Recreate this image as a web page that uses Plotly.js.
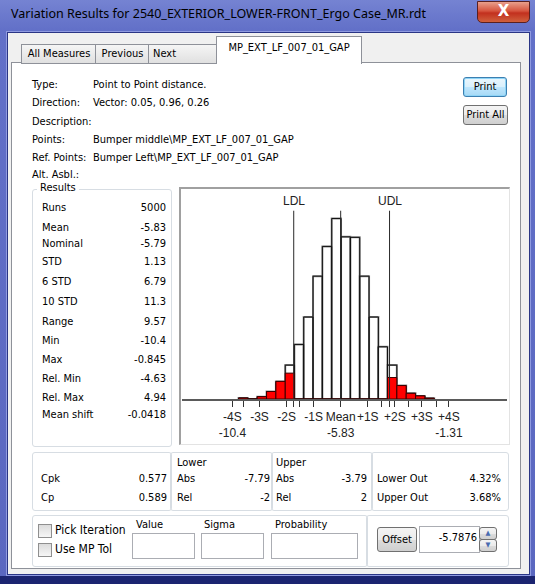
<!DOCTYPE html>
<html><head><meta charset="utf-8">
<script src="https://cdn.plot.ly/plotly-3.0.1.min.js"></script>
<style>
html,body{margin:0;padding:0;}
body{width:535px;height:584px;position:relative;overflow:hidden;
 background:linear-gradient(#7583d2 0px,#6270c8 30px,#5a67c0 100%);
 font-family:"DejaVu Sans Condensed","Liberation Sans",sans-serif;font-size:11px;color:#000;}
.a{position:absolute;white-space:nowrap;}
#title{left:11px;top:5px;font-family:"Noto Sans","Liberation Sans",sans-serif;font-size:12.5px;color:#000;}
#close{left:477px;top:1px;width:51px;height:20px;border:1px solid #5a2020;border-radius:0 0 5px 5px;
 background:linear-gradient(#e8a08c 0%,#d6543e 45%,#c2301e 55%,#d0603c 100%);color:#fff;font:bold 15px "DejaVu Sans",sans-serif;text-align:center;line-height:19px;}
#client{left:7px;top:32px;width:521px;height:541px;background:#f0f0f0;border:1px solid #2a3585;box-shadow:0 0 0 1px #8f9ae0;}
#botframe{left:0;top:576px;width:535px;height:8px;background:#1b2470;}
.tab{top:44px;height:18px;border:1px solid #8e9199;background:linear-gradient(#f5f5f5,#e0e0e0);text-align:center;line-height:18px;}
#page{left:11px;top:62px;width:508px;height:505px;background:#fff;border:1px solid #8e9199;}
.lbl{left:32px;}
.val{left:93px;}
.grp{border:1px solid #d7dde3;border-radius:3px;}
.r{text-align:right;}
.btn{border:1px solid #707070;border-radius:3px;background:linear-gradient(#f4f4f4 0%,#ebebeb 50%,#dddddd 51%,#cfcfcf 100%);text-align:center;}
.tb{border:1px solid #abadb3;background:#fff;}
.cb{width:12px;height:12px;border:1px solid #8f8f8f;background:linear-gradient(#dcdcdc,#f6f6f6);}
#chartframe{left:179px;top:187px;width:328px;height:255px;border-top:2px solid #a0a0a0;border-left:2px solid #a0a0a0;border-right:1px solid #e3e3e3;border-bottom:1px solid #e3e3e3;background:#fff;}
#plot{position:absolute;left:182px;top:189px;width:325px;height:253px;}
</style></head><body>
<div class="a" id="title">Variation Results for 2540_EXTERIOR_LOWER-FRONT_Ergo Case_MR.rdt</div>
<div class="a" id="close">X</div>
<div class="a" id="client"></div>
<div class="a" id="botframe"></div>
<div class="a" id="page"></div>
<div class="a tab" style="left:21px;width:74px;">All Measures</div>
<div class="a tab" style="left:95px;width:53px;">Previous</div>
<div class="a tab" style="left:148px;text-align:left;padding-left:4px;width:64px;">Next</div>
<div class="a" style="left:216px;top:36px;width:144px;height:27px;background:#fff;border:1px solid #8e9199;border-bottom:none;text-align:center;line-height:22px;">MP_EXT_LF_007_01_GAP</div>

<div class="a lbl" style="top:78px;">Type:</div><div class="a val" style="top:78px;">Point to Point distance.</div>
<div class="a lbl" style="top:96px;">Direction:</div><div class="a val" style="top:96px;">Vector: 0.05, 0.96, 0.26</div>
<div class="a lbl" style="top:115px;">Description:</div>
<div class="a lbl" style="top:133px;">Points:</div><div class="a val" style="top:133px;">Bumper middle\MP_EXT_LF_007_01_GAP</div>
<div class="a lbl" style="top:151px;">Ref. Points:</div><div class="a" style="left:93px;top:151px;">Bumper Left\MP_EXT_LF_007_01_GAP</div>
<div class="a lbl" style="top:168px;">Alt. Asbl.:</div>

<div class="a btn" style="left:463px;top:77px;width:42px;height:18px;line-height:18px;border-color:#3c7fb1;background:linear-gradient(#eaf6fd 0%,#d9f0fc 50%,#bee6fd 51%,#a7d9f5 100%);box-shadow:inset 0 0 0 1px #8ed4f6;">Print</div>
<div class="a btn" style="left:463px;top:105px;width:43px;height:18px;line-height:18px;">Print All</div>

<div class="a grp" style="left:32px;top:189px;width:138px;height:256px;"></div>
<div class="a" style="left:37px;top:181px;background:#fff;padding:0 3px;">Results</div>
<div id="results"></div>

<div class="a" id="chartframe"></div>
<div id="plot"></div>

<div class="a grp" style="left:32px;top:452px;width:138px;height:57px;"></div>
<div class="a grp" style="left:170px;top:452px;width:101px;height:57px;"></div>
<div class="a grp" style="left:271px;top:452px;width:100px;height:57px;"></div>
<div class="a grp" style="left:371px;top:452px;width:136px;height:57px;"></div>
<div id="stats"></div>

<div class="a grp" style="left:32px;top:515px;width:334px;height:50px;"></div>
<div class="a grp" style="left:366px;top:515px;width:141px;height:50px;"></div>
<div class="a cb" style="left:38px;top:524px;"></div><div class="a" style="left:55px;top:523px;font-size:12px;">Pick Iteration</div>
<div class="a cb" style="left:38px;top:543px;"></div><div class="a" style="left:55px;top:542px;font-size:12px;">Use MP Tol</div>
<div class="a" style="left:136px;top:518px;">Value</div><div class="a tb" style="left:132px;top:533px;width:61px;height:24px;"></div>
<div class="a" style="left:204px;top:518px;">Sigma</div><div class="a tb" style="left:201px;top:533px;width:61px;height:24px;"></div>
<div class="a" style="left:275px;top:518px;">Probability</div><div class="a tb" style="left:271px;top:533px;width:85px;height:24px;"></div>
<div class="a btn" style="left:377px;top:527px;width:38px;height:23px;line-height:23px;">Offset</div>
<div class="a tb r" style="left:419px;top:526px;width:57px;height:25px;line-height:22px;padding-right:2px;">-5.7876</div>
<div class="a btn" style="left:479px;top:527px;width:16px;height:11px;font-size:7px;line-height:11px;color:#4a6bb0;">&#9650;</div>
<div class="a btn" style="left:479px;top:539px;width:16px;height:11px;font-size:7px;line-height:11px;color:#4a6bb0;">&#9660;</div>

<script>
// ---- summary values ----
var resultLabels = ["Runs","Mean","Nominal","STD","6 STD","10 STD","Range","Min","Max","Rel. Min","Rel. Max","Mean shift"];
var resultValues = ["5000","-5.83","-5.79","1.13","6.79","11.3","9.57","-10.4","-0.845","-4.63","4.94","-0.0418"];
var resultRowsY = [201,221,237,255,275,295,315,334,353,372,391,408];

var mean = -5.83;
var std = 1.13;
var ldl = -7.79;
var udl = -3.79;

// ---- histogram ----
var binCenters = [-9.90,-9.51,-9.12,-8.73,-8.34,-7.95,-7.57,-7.18,-6.79,-6.40,-6.01,-5.62,-5.23,-4.84,-4.45,-4.07,-3.68,-3.29,-2.90,-2.51,-2.12];
var binCounts  = [4,0,9,29,68,131,211,317,475,590,698,627,625,475,317,202,131,52,22,12,3];
var outCounts  = [4,0,9,29,68,100,0,0,0,0,0,0,0,0,0,0,83,52,22,12,3];
var binWidth = 0.389;

// sigma tick labels
var sigmaSteps = [-4,-3,-2,-1,0,1,2,3,4];
var sigmaLabels = ["-4S<br>-10.4","-3S","-2S","-1S","Mean<br>-5.83","+1S","+2S","+3S","+4S<br>-1.31"];
var extraTicks = [-9.87,-7.55,-4.11,-2.98,-1.84];

// bottom stats
var capLabels = ["Cpk","Cp"], capValues = ["0.577","0.589"];
var lowerLabels = ["Abs","Rel"], lowerValues = ["-7.79","-2"];
var upperLabels = ["Abs","Rel"], upperValues = ["-3.79","2"];
var outLabels = ["Lower Out","Upper Out"], outValues = ["4.32%","3.68%"];

// ---- build HTML text ----
function addText(parent, txt, style){
  var d=document.createElement('div'); d.className='a'; d.textContent=txt; d.setAttribute('style',style); parent.appendChild(d);
}
var res=document.getElementById('results');
resultLabels.forEach(function(l,i){
  addText(res,l,'left:42px;top:'+resultRowsY[i]+'px;');
  addText(res,resultValues[i],'left:100px;width:66px;text-align:right;top:'+resultRowsY[i]+'px;');
});
var st=document.getElementById('stats');
var rowY=[472,491];
addText(st,"Lower",'left:177px;top:456px;');
addText(st,"Upper",'left:276px;top:456px;');
for(var i=0;i<2;i++){
  addText(st,capLabels[i],'left:41px;top:'+rowY[i]+'px;');
  addText(st,capValues[i],'left:110px;width:57px;text-align:right;top:'+rowY[i]+'px;');
  addText(st,lowerLabels[i],'left:177px;top:'+rowY[i]+'px;');
  addText(st,lowerValues[i],'left:220px;width:50px;text-align:right;top:'+rowY[i]+'px;');
  addText(st,upperLabels[i],'left:276px;top:'+rowY[i]+'px;');
  addText(st,upperValues[i],'left:318px;width:49px;text-align:right;top:'+rowY[i]+'px;');
  addText(st,outLabels[i],'left:377px;top:'+rowY[i]+'px;');
  addText(st,outValues[i],'left:450px;width:51px;text-align:right;top:'+rowY[i]+'px;');
}

// ---- chart ----
var tickvals = sigmaSteps.map(function(k){return mean + k*std;});
var ticktext = sigmaLabels.slice();
extraTicks.concat([ldl,udl]).forEach(function(v){ tickvals.push(v); ticktext.push(''); });

var traces = [
  {type:'bar', x:binCenters, y:binCounts, width:binWidth,
   marker:{color:'#ffffff', line:{color:'#8a8a8a', width:2}}, hoverinfo:'skip'},
  {type:'bar', x:binCenters, y:binCounts, width:binWidth,
   marker:{color:'rgba(255,255,255,0)', line:{color:'#111111', width:1}}, hoverinfo:'skip'},
  {type:'bar', x:binCenters, y:outCounts, width:binWidth,
   marker:{color:'#ff0000', line:{color:'#3a0000', width:1}}, hoverinfo:'skip'}
];
var yMax = 812, lineTopCount = 728, labelCount = 765;
var shapes = [ldl, udl, mean].map(function(v){
  return {type:'line', xref:'x', yref:'y', x0:v, x1:v, y0:0, y1:lineTopCount, line:{color:'#2a2a2a', width:1}};
});
var layout = {
  width:325, height:253, margin:{l:0,r:0,t:0,b:43},
  paper_bgcolor:'rgba(0,0,0,0)', plot_bgcolor:'#ffffff',
  barmode:'overlay', bargap:0, showlegend:false,
  font:{family:'"Liberation Sans", Arial, sans-serif', size:12, color:'#222'},
  xaxis:{range:[-12.455,1.114], automargin:false, showgrid:false, zeroline:false, showline:true, linecolor:'#5a5a5a', linewidth:1.5,
    ticks:'outside', ticklen:6, tickcolor:'#333', tickwidth:1, tickmode:'array', tickvals:tickvals, ticktext:ticktext,
    tickangle:0, tickfont:{size:12, color:'#222'}, fixedrange:true},
  yaxis:{range:[0,yMax], visible:false, automargin:false, fixedrange:true},
  shapes:shapes,
  annotations:[
    {xref:'x', yref:'y', x:ldl, y:labelCount, text:'LDL', showarrow:false, font:{size:12,color:'#222'}},
    {xref:'x', yref:'y', x:udl, y:labelCount, text:'UDL', showarrow:false, font:{size:12,color:'#222'}}
  ]
};
Plotly.newPlot('plot', traces, layout, {displayModeBar:false, staticPlot:true});
</script>
</body></html>
